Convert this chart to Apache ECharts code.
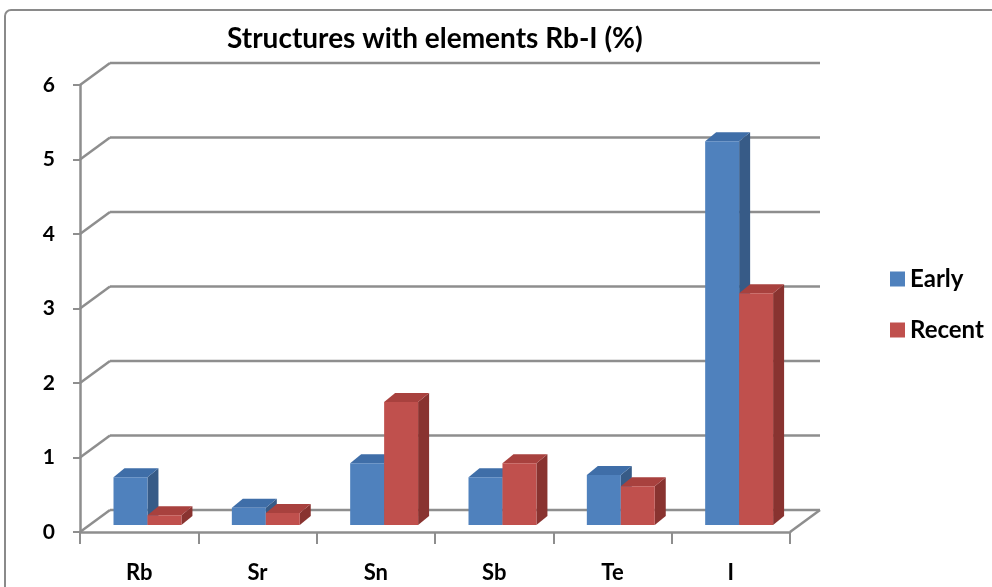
<!DOCTYPE html>
<html><head><meta charset="utf-8">
<script src="https://cdn.jsdelivr.net/npm/echarts@6/dist/echarts.min.js"></script>
<style>html,body{margin:0;padding:0;background:#fff}#c{width:992px;height:587px}</style>
</head><body><div id="c"></div>
<script>
const categories = ['Rb', 'Sr', 'Sn', 'Sb', 'Te', 'I'];
const early = [0.64, 0.23, 0.83, 0.64, 0.67, 5.15];
const recent = [0.13, 0.16, 1.65, 0.83, 0.52, 3.11];
const yTicks = [0, 1, 2, 3, 4, 5, 6];

const FONT = 'Lato';
const GRID_COL = '#8e8e8e';
const WALL_DX = 30, WALL_DY = -22;
const BAR_OX = 8.3, BAR_OY = -7;
const BAR_DX = 11, BAR_DY = -9;
const BAR_FRAC = 0.287;

const palettes = [
  { front: '#4f81bd', top: '#3f6ea8', side: '#375b87' },
  { front: '#c0504d', top: '#a8413e', side: '#893330' }
];

function renderWall(params, api) {
  const v = api.value(1);
  const cs = params.coordSys;
  const y = api.coord([0, v])[1];
  const x0 = cs.x, x1 = cs.x + cs.width;
  const style = { stroke: GRID_COL, lineWidth: 2.5, fill: null };
  const children = [
    { type: 'line', shape: { x1: x0, y1: y, x2: x0 + WALL_DX, y2: y + WALL_DY }, style },
    { type: 'line', shape: { x1: x0 + WALL_DX, y1: y + WALL_DY, x2: x1 + WALL_DX, y2: y + WALL_DY }, style }
  ];
  if (v === 0) {
    children.push({ type: 'line', shape: { x1: x1, y1: y, x2: x1 + WALL_DX, y2: y + WALL_DY }, style });
  }
  return { type: 'group', children };
}

function makeBarRenderer(si) {
  return function (params, api) {
    const idx = api.value(0), val = api.value(1);
    const t = api.coord([idx, val]);
    const b = api.coord([idx, 0]);
    const band = api.size([1, 0])[0];
    const w = band * BAR_FRAC;
    const left = (si === 0 ? t[0] - w : t[0]) + BAR_OX;
    const yt = t[1] + BAR_OY, yb = b[1] + BAR_OY;
    const p = palettes[si];
    return {
      type: 'group',
      children: [
        { type: 'polygon', shape: { points: [[left + w, yt], [left + w + BAR_DX, yt + BAR_DY], [left + w + BAR_DX, yb + BAR_DY], [left + w, yb]] }, style: { fill: p.side } },
        { type: 'polygon', shape: { points: [[left, yt], [left + BAR_DX, yt + BAR_DY], [left + w + BAR_DX, yt + BAR_DY], [left + w, yt]] }, style: { fill: p.top } },
        { type: 'rect', shape: { x: left, y: yt, width: w, height: yb - yt }, style: { fill: p.front } }
      ]
    };
  };
}

const chart = echarts.init(document.getElementById('c'));
chart.setOption({
  animation: false,
  backgroundColor: '#fff',
  title: {
    text: 'Structures with elements Rb-I (%)',
    left: 222, top: 20,
    textStyle: { fontFamily: FONT, fontWeight: 'bold', fontSize: 28, color: '#000' }
  },
  legend: {
    orient: 'vertical', left: 885, top: 262,
    itemWidth: 15, itemHeight: 15, itemGap: 27,
    icon: 'rect',
    textStyle: { fontFamily: FONT, fontWeight: 'bold', fontSize: 24, color: '#000' },
    data: ['Early', 'Recent']
  },
  graphic: [{
    type: 'rect', z: -10,
    shape: { x: 5, y: 10, width: 1000, height: 620, r: 6 },
    style: { fill: null, stroke: '#8a8a8a', lineWidth: 2 }
  }],
  grid: { left: 80, right: 202, top: 85, bottom: 55 },
  xAxis: {
    type: 'category', data: categories, boundaryGap: true,
    axisLine: { lineStyle: { color: GRID_COL, width: 2.5 } },
    axisTick: { show: true, interval: 0, length: 12, lineStyle: { color: GRID_COL, width: 2 } },
    axisLabel: { fontFamily: FONT, fontWeight: 'bold', fontSize: 22, color: '#000', margin: 30 }
  },
  yAxis: {
    type: 'value', min: 0, max: 6, interval: 1,
    axisLine: { show: true, lineStyle: { color: GRID_COL, width: 2.5 } },
    axisTick: { show: true, length: 7, lineStyle: { color: GRID_COL, width: 2 } },
    splitLine: { show: false },
    axisLabel: { fontFamily: FONT, fontWeight: 'bold', fontSize: 21, color: '#000', margin: 25 }
  },
  series: [
    { type: 'custom', name: 'walls', z: 1, silent: true, renderItem: renderWall,
      data: yTicks.map(v => [0, v]), encode: { x: 0, y: 1 } },
    { type: 'custom', name: 'Early', z: 2, renderItem: makeBarRenderer(0),
      itemStyle: { color: palettes[0].front },
      data: early.map((v, i) => [i, v]), encode: { x: 0, y: 1 } },
    { type: 'custom', name: 'Recent', z: 3, renderItem: makeBarRenderer(1),
      itemStyle: { color: palettes[1].front },
      data: recent.map((v, i) => [i, v]), encode: { x: 0, y: 1 } }
  ]
});
</script></body></html>
